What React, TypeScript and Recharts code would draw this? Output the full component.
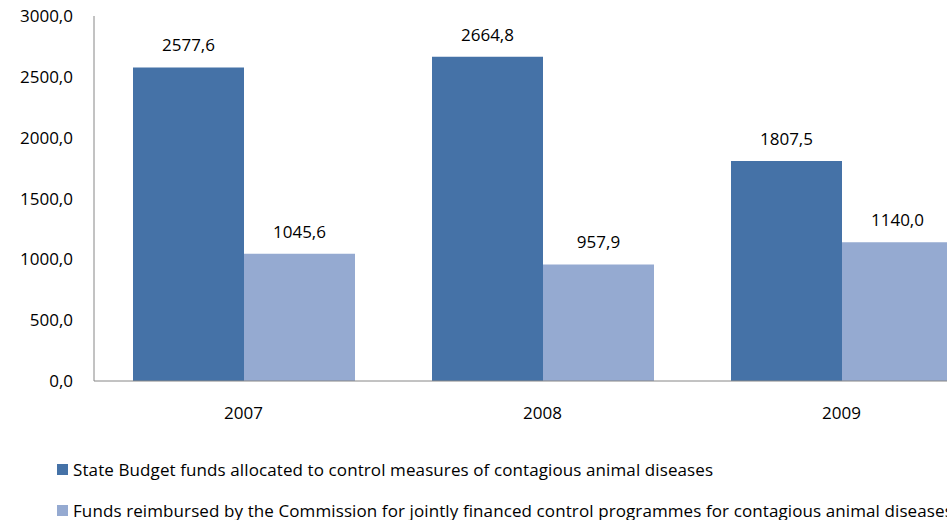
import React from 'react';
import { BarChart, Bar, XAxis, YAxis, Legend, LabelList } from 'recharts';

const years = ['2007', '2008', '2009'];
const stateBudget = [2577.6, 2664.8, 1807.5];
const reimbursed = [1045.6, 957.9, 1140.0];
const yTicks = [0, 500, 1000, 1500, 2000, 2500, 3000];

const seriesNames = [
  'State Budget funds allocated to control measures of contagious animal diseases',
  'Funds reimbursed by the Commission for jointly financed control programmes for contagious animal diseases',
];

const DARK = '#4572A7';
const LIGHT = '#95AAD1';
const FONT = '"Open Sans", sans-serif';
const INK = '#000';

const fmt = (v: number) => v.toFixed(1).replace('.', ',');

const data = years.map((year, i) => ({
  year,
  budget: stateBudget[i],
  commission: reimbursed[i],
}));

const LegendBox = () => (
  <div style={{ height: 100, position: 'relative', fontFamily: FONT, fontSize: 17, color: INK }}>
    {[DARK, LIGHT].map((c, i) => (
      <div
        key={i}
        style={{ position: 'absolute', left: 57, top: 38 + i * 41, display: 'flex', alignItems: 'center', whiteSpace: 'nowrap' }}
      >
        <span style={{ display: 'inline-block', width: 11, height: 11, background: c, marginRight: 5 }} />
        <span style={{ letterSpacing: i === 0 ? 0.1 : 0.1 }}>{seriesNames[i]}</span>
      </div>
    ))}
  </div>
);

export default function App() {
  return (
    <div style={{ position: 'fixed', left: 0, top: 0, width: 947, height: 520, overflow: 'hidden', background: '#fff' }}>
      <BarChart
        width={1000}
        height={520}
        data={data}
        margin={{ top: 16, right: 9, left: 0, bottom: 0 }}
        barCategoryGap={39}
        barGap={0}
      >
        <XAxis
          dataKey="year"
          height={39}
          tickLine={false}
          tickSize={0}
          tickMargin={26}
          axisLine={{ stroke: '#868686' }}
          tick={{ fill: INK, fontSize: 17, fontFamily: FONT }}
        />
        <YAxis
          width={94}
          domain={[0, 3000]}
          ticks={yTicks}
          tickFormatter={fmt}
          tickLine={false}
          tickSize={0}
          tickMargin={21}
          axisLine={{ stroke: '#868686' }}
          tick={{ fill: INK, fontSize: 17, fontFamily: FONT }}
        />
        <Legend
          verticalAlign="bottom"
          content={<LegendBox />}
          wrapperStyle={{ left: 0, bottom: 0, width: 1000, height: 100 }}
        />
        <Bar dataKey="budget" fill={DARK} isAnimationActive={false}>
          <LabelList dataKey="budget" position="top" offset={16} formatter={(v: any) => fmt(Number(v))} style={{ fill: INK, fontSize: 17, fontFamily: FONT }} />
        </Bar>
        <Bar dataKey="commission" fill={LIGHT} isAnimationActive={false}>
          <LabelList dataKey="commission" position="top" offset={16} formatter={(v: any) => fmt(Number(v))} style={{ fill: INK, fontSize: 17, fontFamily: FONT }} />
        </Bar>
      </BarChart>
    </div>
  );
}
